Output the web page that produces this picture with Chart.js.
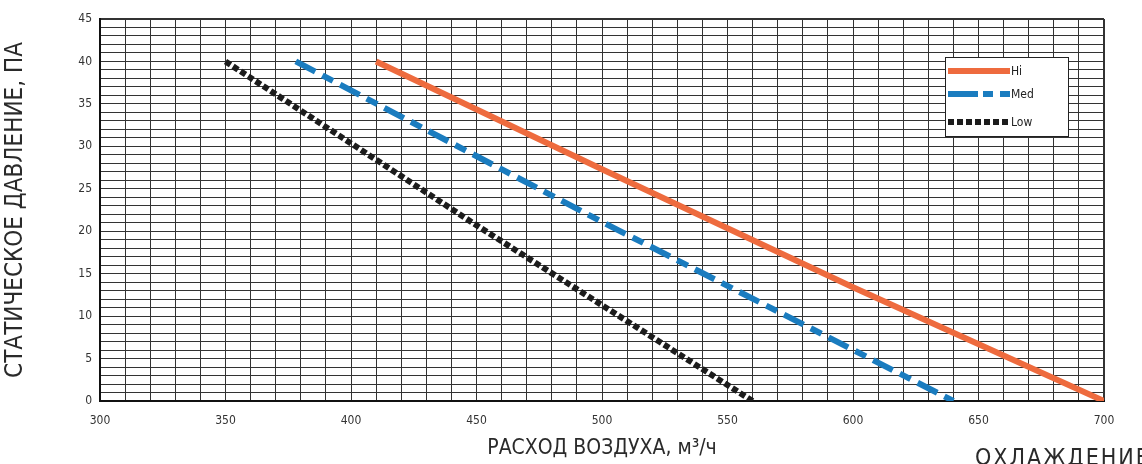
<!DOCTYPE html>
<html>
<head>
<meta charset="utf-8">
<script src="https://cdn.jsdelivr.net/npm/chart.js@4"></script>
<style>
    html, body { margin: 0; padding: 0; background: #fff; overflow: hidden; }
    #wrap { position: relative; width: 1142px; height: 464px; }
    #note {
        position: absolute; left: 975px; top: 444px;
        font-family: 'DejaVu Sans Condensed', 'Liberation Sans Narrow', sans-serif;
        font-size: 23px; letter-spacing: 2px; color: #2a2a2a; white-space: nowrap;
    }
</style>
</head>
<body>
<div id="wrap">
    <canvas id="chart" width="1142" height="464"></canvas>
    <div id="note">ОХЛАЖДЕНИЕ</div>
</div>
<script>
'use strict';

// значения (расход, давление)
const hiFlow = [410, 500, 600, 700];
const hiPress = [40, 27.3, 13.4, 0];
const medFlow = [378, 500, 640];
const medPress = [40, 21.1, 0];
const lowFlow = [350, 450, 560];
const lowPress = [40, 20.7, 0];

const seriesNames = ['Hi', 'Med', 'Low'];
const xLabelStep = 50;
const yLabelStep = 5;

const tickFont = { family: "'DejaVu Sans Condensed', sans-serif", size: 12 };
const xTitleFont = { family: "'Liberation Sans Narrow', 'DejaVu Sans Condensed', sans-serif", size: 21 };
const yTitleFont = { family: "'Liberation Sans Narrow', 'DejaVu Sans Condensed', sans-serif", size: 24 };

function toPoints(xs, ys) {
    return xs.map((x, i) => ({ x: x, y: ys[i] }));
}

// легенда в рамке внутри области графика
const boxLegend = {
    id: 'boxLegend',
    afterDraw(chart) {
        const ctx = chart.ctx;
        const area = chart.chartArea;
        const left = area.right - 159;
        const top = area.top + 38;
        const w = 123, h = 79;
        ctx.save();
        ctx.fillStyle = '#fff';
        ctx.fillRect(left, top, w, h);
        ctx.strokeStyle = '#222';
        ctx.lineWidth = 1;
        ctx.strokeRect(left + 0.5, top + 0.5, w, h);
        const rows = [14, 37, 65];
        chart.data.datasets.forEach((ds, i) => {
            const y = top + rows[i];
            ctx.beginPath();
            ctx.strokeStyle = ds.borderColor;
            ctx.lineWidth = 6;
            ctx.lineCap = 'butt';
            ctx.setLineDash(i === 1 ? [30, 5, 10, 7] : (ds.borderDash || []));
            ctx.moveTo(left + 3, y);
            ctx.lineTo(left + 65, y);
            ctx.stroke();
            ctx.setLineDash([]);
            ctx.fillStyle = '#222';
            ctx.font = "12px 'DejaVu Sans Condensed', sans-serif";
            ctx.textBaseline = 'middle';
            ctx.fillText(ds.label, left + 66, y + 1);
        });
        ctx.restore();
    }
};

new Chart(document.getElementById('chart').getContext('2d'), {
    type: 'line',
    data: {
        datasets: [
            { label: seriesNames[0], data: toPoints(hiFlow, hiPress), borderColor: '#ee6b3e', borderWidth: 6, pointRadius: 0, borderCapStyle: 'butt' },
            { label: seriesNames[1], data: toPoints(medFlow, medPress), borderColor: '#1a7cbf', borderWidth: 6, pointRadius: 0, borderDash: [22, 8, 12, 8], borderCapStyle: 'butt' },
            { label: seriesNames[2], data: toPoints(lowFlow, lowPress), borderColor: '#1c1c1c', borderWidth: 6, pointRadius: 0, borderDash: [6, 3], borderCapStyle: 'butt' }
        ]
    },
    options: {
        responsive: false,
        animation: false,
        layout: { padding: { top: 19, right: 38, left: 0, bottom: 0 } },
        plugins: { legend: { display: false }, tooltip: { enabled: false } },
        scales: {
            x: {
                type: 'linear', min: 300, max: 700,
                afterFit: (s) => { s.height = 63; },
                ticks: {
                    stepSize: 10, autoSkip: false, maxRotation: 0, color: '#333', font: tickFont, padding: 13,
                    callback: (v) => (v % xLabelStep === 0 ? v : '')
                },
                grid: {
                    color: '#333', drawTicks: false,
                    lineWidth: (c) => (c.tick && c.tick.value === 700 ? 2 : 1)
                },
                border: { color: '#111', width: 2 },
                title: { display: true, text: 'РАСХОД ВОЗДУХА, м³/ч', color: '#2a2a2a', font: xTitleFont, padding: { top: 4, bottom: 3 } }
            },
            y: {
                min: 0, max: 45,
                afterFit: (s) => { s.width = 100; },
                ticks: {
                    stepSize: 1, autoSkip: false, color: '#333', font: tickFont, padding: 8,
                    callback: (v) => (v % yLabelStep === 0 ? v : '')
                },
                grid: {
                    color: '#333', drawTicks: false,
                    lineWidth: (c) => (c.tick && c.tick.value === 45 ? 2 : 1)
                },
                border: { color: '#111', width: 2 },
                title: { display: true, text: 'СТАТИЧЕСКОЕ ДАВЛЕНИЕ, ПА', color: '#2a2a2a', font: yTitleFont, padding: { top: 1, bottom: 0 } }
            }
        }
    },
    plugins: [boxLegend]
});
</script>
</body>
</html>
